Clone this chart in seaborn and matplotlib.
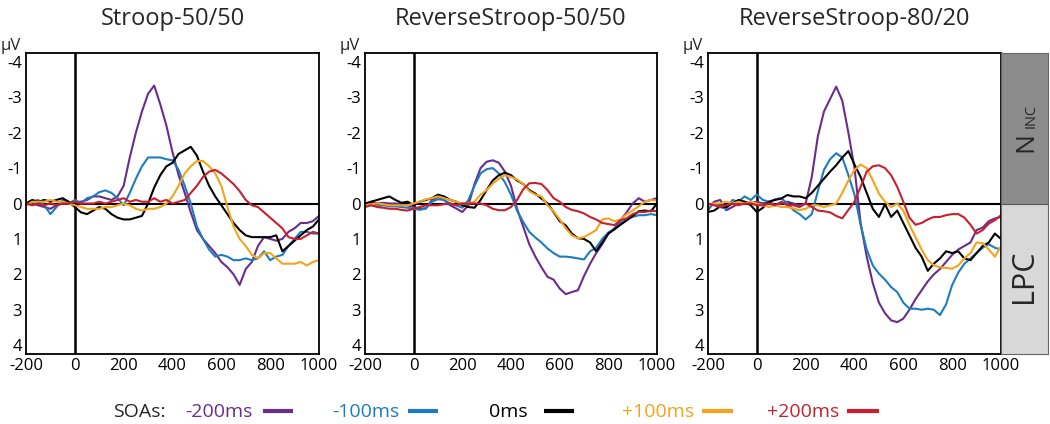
import numpy as np
import pandas as pd
import matplotlib.pyplot as plt
import seaborn as sns
from matplotlib.lines import Line2D

# time axis (ms), one sample every 25 ms
times = np.arange(-200, 1001, 25)

soas = ['-200ms', '-100ms', '0ms', '+100ms', '+200ms']
soa_colors = ['#6a2c8e', '#1b7dc0', '#000000', '#f4a31b', '#c8202e']
titles = ['Stroop-50/50', 'ReverseStroop-50/50', 'ReverseStroop-80/20']

# Stroop-50/50 (uV, positive plotted downwards)
stroop_m200 = [0.0, 0.0, 0.05, 0.1, 0.15, 0.05, 0.0, 0.0,
               -0.05, -0.05, -0.1, -0.2, -0.2, -0.15, -0.1, -0.2,
               -0.5, -1.3, -2.0, -2.6, -3.1, -3.33, -2.8, -2.2,
               -1.45, -0.8, -0.3, 0.25, 0.75, 1.0, 1.2, 1.4,
               1.65, 1.8, 2.0, 2.3, 1.85, 1.65, 1.2, 0.95,
               1.0, 1.05, 1.0, 0.8, 0.7, 0.55, 0.55, 0.5,
               0.35]
stroop_m100 = [0.0, -0.05, -0.1, 0.05, 0.3, 0.1, -0.1, 0.0,
               -0.1, 0.0, -0.15, -0.2, -0.32, -0.37, -0.3, -0.15,
               0.05, -0.3, -0.7, -1.05, -1.3, -1.3, -1.3, -1.25,
               -1.22, -0.95, -0.5, 0.0, 0.65, 1.0, 1.3, 1.5,
               1.45, 1.5, 1.6, 1.6, 1.55, 1.6, 1.55, 1.35,
               1.6, 1.5, 1.45, 1.2, 1.0, 0.8, 0.8, 0.85,
               0.85]
stroop_0 = [0.0, -0.1, -0.05, -0.1, -0.05, -0.1, -0.15, -0.05,
            0.1, 0.25, 0.3, 0.2, 0.1, 0.15, 0.3, 0.4,
            0.45, 0.45, 0.4, 0.35, 0.0, -0.45, -0.8, -1.05,
            -1.15, -1.4, -1.5, -1.6, -1.35, -0.9, -0.5, -0.2,
            0.05, 0.3, 0.55, 0.75, 0.9, 0.95, 0.95, 0.95,
            0.95, 0.9, 1.35, 1.2, 1.05, 0.9, 0.75, 0.65,
            0.45]
stroop_p100 = [0.05, -0.05, -0.05, -0.05, -0.1, -0.05, -0.05, 0.0,
               0.05, 0.1, 0.15, 0.15, 0.15, 0.1, 0.1, 0.05,
               0.0, 0.05, 0.15, 0.2, 0.15, 0.15, 0.1, 0.0,
               -0.2, -0.5, -0.85, -1.05, -1.2, -1.2, -1.05, -0.85,
               -0.5, 0.1, 0.65, 1.0, 1.2, 1.45, 1.55, 1.4,
               1.4, 1.55, 1.7, 1.7, 1.7, 1.65, 1.75, 1.65,
               1.6]
stroop_p200 = [0.0, 0.05, 0.0, 0.05, 0.0, 0.05, 0.0, 0.0,
               -0.05, 0.0, 0.0, 0.0, -0.05, 0.0, -0.05, -0.1,
               -0.15, -0.05, -0.1, -0.05, -0.05, -0.15, -0.05, -0.1,
               0.0, -0.05, -0.1, -0.3, -0.5, -0.75, -0.9, -0.95,
               -0.85, -0.7, -0.55, -0.35, -0.1, 0.05, 0.1, 0.25,
               0.4, 0.55, 0.7, 0.95, 1.0, 1.0, 0.9, 0.8,
               0.85]

# ReverseStroop-50/50
rev5050_m200 = [0.05, -0.05, 0.0, -0.02, 0.0, 0.0, 0.02, 0.05,
                0.1, 0.14, 0.14, -0.1, -0.19, -0.1, 0.05, 0.14,
                0.24, 0.05, -0.55, -1.0, -1.18, -1.22, -1.15, -0.9,
                -0.5, 0.15, 0.65, 1.15, 1.5, 1.8, 2.07, 2.15,
                2.4, 2.56, 2.5, 2.45, 2.05, 1.7, 1.4, 1.15,
                0.85, 0.7, 0.47, 0.25, 0.0, -0.15, -0.05, -0.1,
                -0.15]
rev5050_m100 = [0.0, 0.05, 0.08, 0.05, 0.08, 0.08, 0.1, 0.12,
                0.15, 0.18, 0.14, -0.05, -0.12, -0.1, 0.0, 0.05,
                0.12, -0.1, -0.5, -0.85, -0.97, -1.0, -0.85, -0.6,
                -0.25, 0.2, 0.52, 0.8, 0.96, 1.1, 1.27, 1.4,
                1.5, 1.5, 1.52, 1.55, 1.58, 1.35, 1.25, 1.0,
                0.82, 0.72, 0.55, 0.45, 0.38, 0.33, 0.33, 0.3,
                0.33]
rev5050_0 = [0.0, -0.05, -0.1, -0.15, -0.2, -0.1, -0.02, -0.05,
             0.05, -0.05, -0.1, -0.15, -0.25, -0.2, -0.1, -0.05,
             0.05, 0.1, 0.12, -0.1, -0.38, -0.65, -0.8, -0.87,
             -0.8, -0.65, -0.55, -0.38, -0.28, -0.14, 0.0, 0.24,
             0.5, 0.62, 0.85, 0.98, 1.0, 1.1, 1.35, 1.1,
             0.85, 0.73, 0.6, 0.48, 0.35, 0.22, 0.2, 0.22,
             0.0]
rev5050_p100 = [0.05, 0.02, 0.0, 0.02, 0.05, 0.05, 0.05, 0.05,
                0.0, -0.05, -0.12, -0.15, -0.2, -0.15, -0.1, -0.05,
                0.0, 0.0, -0.05, -0.25, -0.38, -0.56, -0.7, -0.8,
                -0.75, -0.68, -0.55, -0.35, -0.25, -0.2, 0.05, 0.22,
                0.45, 0.7, 0.9, 0.98, 0.95, 0.85, 0.75, 0.45,
                0.42, 0.5, 0.45, 0.3, 0.2, 0.08, -0.05, -0.1,
                -0.08]
rev5050_p200 = [0.1, 0.05, 0.1, 0.12, 0.15, 0.15, 0.18, 0.2,
                0.15, 0.1, 0.05, 0.05, 0.05, 0.02, 0.0, 0.05,
                0.0, 0.0, 0.0, 0.0, 0.05, 0.15, 0.19, 0.19,
                0.1, -0.1, -0.4, -0.57, -0.58, -0.55, -0.38, -0.15,
                -0.05, 0.1, 0.18, 0.22, 0.28, 0.38, 0.45, 0.55,
                0.58, 0.61, 0.47, 0.42, 0.3, 0.24, 0.24, 0.2,
                0.22]

# ReverseStroop-80/20
rev8020_m200 = [0.19, -0.05, -0.1, 0.19, 0.1, 0.0, -0.05, 0.0,
                -0.05, 0.0, -0.05, 0.05, 0.0, -0.05, 0.0, 0.05,
                0.0, -0.75, -1.9, -2.6, -2.95, -3.3, -2.9, -2.0,
                -1.0, 0.55, 1.5, 2.25, 2.8, 3.1, 3.3, 3.35,
                3.25, 3.0, 2.7, 2.45, 2.2, 2.0, 1.85, 1.65,
                1.45, 1.3, 1.2, 1.1, 0.75, 0.68, 0.5, 0.42,
                0.38]
rev8020_m100 = [0.14, 0.0, 0.1, 0.15, -0.1, -0.05, -0.2, -0.1,
                -0.25, -0.1, -0.05, -0.12, -0.15, 0.0, 0.19, 0.3,
                0.45, 0.3, -0.35, -0.95, -1.25, -1.42, -1.3, -0.8,
                -0.25, 0.6, 1.3, 1.75, 1.98, 2.15, 2.36, 2.5,
                2.8, 2.97, 2.97, 3.0, 2.97, 3.0, 3.15, 2.85,
                2.3, 1.95, 1.7, 1.55, 1.4, 1.25, 1.15, 1.25,
                1.3]
rev8020_0 = [0.24, 0.2, 0.08, 0.1, 0.0, -0.1, -0.05, 0.05,
             0.24, 0.12, -0.05, -0.1, -0.14, -0.24, -0.2, -0.2,
             -0.15, -0.3, -0.5, -0.7, -0.9, -1.08, -1.3, -1.48,
             -1.1, -0.75, -0.3, 0.15, 0.38, 0.02, 0.38, 0.2,
             0.55, 0.9, 1.25, 1.5, 1.9, 1.7, 1.55, 1.35,
             1.4, 1.35, 1.55, 1.6, 1.4, 1.2, 1.1, 0.85,
             1.0]
rev8020_p100 = [0.05, 0.0, 0.0, -0.05, 0.0, -0.05, 0.0, -0.05,
                0.0, 0.05, 0.1, 0.05, 0.1, 0.1, 0.14, 0.19,
                0.15, 0.05, 0.05, 0.1, 0.05, 0.0, -0.3, -0.65,
                -0.95, -1.1, -1.0, -0.65, -0.28, -0.05, 0.1, 0.0,
                0.2, 0.6, 0.95, 1.3, 1.6, 1.75, 1.8, 1.82,
                1.84, 1.75, 1.55, 1.4, 1.1, 1.12, 1.3, 1.5,
                1.2]
rev8020_p200 = [0.0, 0.05, 0.1, 0.05, 0.0, 0.05, 0.0, 0.0,
                0.05, 0.05, 0.0, 0.05, -0.05, 0.05, 0.05, 0.1,
                0.0, 0.1, 0.2, 0.22, 0.25, 0.35, 0.42, 0.18,
                -0.05, -0.47, -0.9, -1.05, -1.08, -1.0, -0.8, -0.47,
                -0.05, 0.4, 0.6, 0.55, 0.45, 0.38, 0.38, 0.33,
                0.3, 0.3, 0.4, 0.6, 0.85, 0.75, 0.57, 0.47,
                0.33]

panels = [
    [stroop_m200, stroop_m100, stroop_0, stroop_p100, stroop_p200],
    [rev5050_m200, rev5050_m100, rev5050_0, rev5050_p100, rev5050_p200],
    [rev8020_m200, rev8020_m100, rev8020_0, rev8020_p100, rev8020_p200],
]

rows = []
for title, series in zip(titles, panels):
    for soa, vals in zip(soas, series):
        assert len(vals) == len(times), (title, soa)
        for t, v in zip(times, vals):
            rows.append({'task': title, 'soa': soa, 'time': t, 'uv': v})
df = pd.DataFrame(rows)

sns.set_style('white')
plt.rcParams['font.family'] = ['Open Sans', 'DejaVu Sans']
plt.rcParams['axes.unicode_minus'] = False

W, H = 1050, 424
fig = plt.figure(figsize=(W / 100, H / 100), dpi=100)

def fx(px):
    return px / W

def fy(py):
    return (H - py) / H

ax_left = [26, 365, 708]
ax_right = [319, 657, 1001]
top, bottom = 53, 354

for i, title in enumerate(titles):
    ax = fig.add_axes([fx(ax_left[i]), fy(bottom), fx(ax_right[i] - ax_left[i]),
                       (bottom - top) / H])
    sns.lineplot(data=df[df['task'] == title], x='time', y='uv', hue='soa',
                 hue_order=soas, palette=soa_colors, linewidth=1.5,
                 errorbar=None, legend=False, ax=ax)
    ax.axhline(0, color='black', lw=1.5, zorder=1)
    ax.axvline(0, color='black', lw=1.8, zorder=1)
    ax.set_xlim(-200, 1000)
    ax.set_ylim(4.25, -4.25)
    ax.set_xticks([-200, 0, 200, 400, 600, 800, 1000])
    ax.set_yticks([-4, -3, -2, -1, 0, 1, 2, 3, 4])
    ax.set_xlabel('')
    ax.set_ylabel('')
    ax.tick_params(direction='in', length=3, width=1, labelsize=12, pad=3,
                   colors='black')
    for sp in ax.spines.values():
        sp.set_color('black')
        sp.set_linewidth(1.3)
    ax.set_title(title, fontsize=17, pad=20)
    ax.text(-0.087, 1.01, '\u00b5V', transform=ax.transAxes, fontsize=12,
            ha='left', va='baseline')

# component bar at the right
side = fig.add_axes([fx(1001), fy(bottom), fx(47), (bottom - top) / H])
side.set_xlim(0, 1)
side.set_ylim(4.25, -4.25)
side.axhspan(-4.25, 0, color='#8c8c8c', lw=0)
side.axhspan(0, 4.25, color='#d8d8d8', lw=0)
side.axhline(0, color='#555555', lw=0.8)
side.set_xticks([])
side.set_yticks([])
for sp in side.spines.values():
    sp.set_color('#666666')
    sp.set_linewidth(0.8)

fig.text(fx(1025.5), fy(142), 'N', rotation=90, fontsize=19, ha='center', va='center')
fig.text(fx(1031), fy(116), 'INC', rotation=90, fontsize=10.5, ha='center', va='center')
fig.text(fx(1024), fy(276), 'LPC', rotation=90, fontsize=22, ha='center', va='center')

# SOA key
base_y = fy(417)
fig.text(fx(113), base_y, 'SOAs:', fontsize=14, ha='left', va='baseline')
text_x = [185, 332, 489, 622, 767]
line_x = [(263, 293), (408, 438), (544, 574), (702, 733), (847, 879)]
for soa, col, tx, (x0, x1) in zip(soas, soa_colors, text_x, line_x):
    fig.text(fx(tx), base_y, soa, color=col, fontsize=14, ha='left', va='baseline')
    fig.add_artist(Line2D([fx(x0), fx(x1)], [fy(410.5), fy(410.5)],
                          color=col, lw=3, solid_capstyle='butt'))

plt.savefig('out.png', dpi=100)
